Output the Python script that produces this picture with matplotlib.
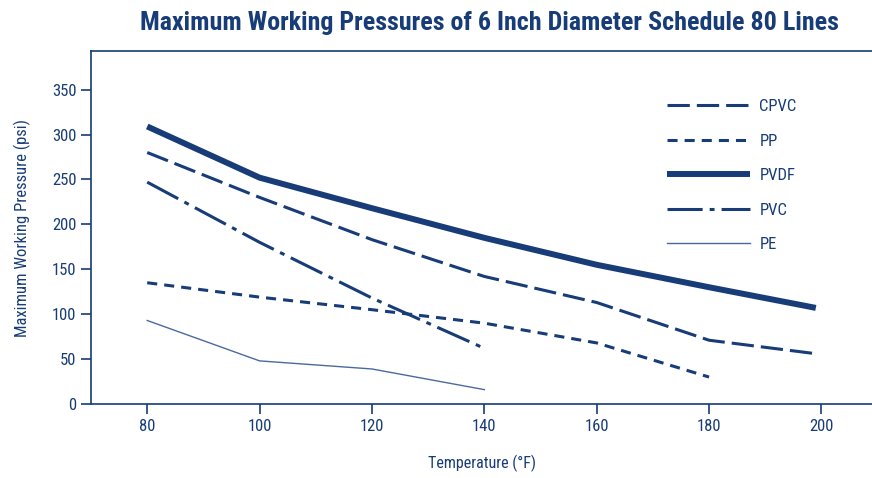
import matplotlib
matplotlib.use("Agg")
import matplotlib.pyplot as plt

# temperatures (F) and max working pressure (psi)
temps = [80, 100, 120, 140, 160, 180, 199]
cpvc = [280, 230, 183, 142, 113, 71, 56]
pp_temps = [80, 100, 120, 140, 160, 180]
pp = [135, 119, 105, 90, 68, 30]
pvdf = [309, 252, 218, 185, 155, 130, 107]
pvc_temps = [80, 100, 120, 140]
pvc = [247, 180, 118, 62]
pe_temps = [80, 100, 120, 140]
pe = [93, 48, 39, 16]

x_ticks = [80, 100, 120, 140, 160, 180, 200]
y_ticks = [0, 50, 100, 150, 200, 250, 300, 350]

NAVY = "#173c78"
FONT = ["Roboto Condensed", "DejaVu Sans"]

plt.rcParams["font.family"] = FONT

fig = plt.figure(figsize=(8.72, 4.78), dpi=100)
ax = fig.add_axes([0.1044, 0.1548, 0.8956, 0.7385])

ax.plot(temps, cpvc, color=NAVY, lw=2.2, dashes=(7.3, 2.3), label="CPVC")
ax.plot(pp_temps, pp, color=NAVY, lw=2.2, dashes=(3.3, 2.3), label="PP")
ax.plot(temps, pvdf, color=NAVY, lw=4.3, solid_capstyle="butt", label="PVDF")
ax.plot(pvc_temps, pvc, color=NAVY, lw=2.2, dashes=(11.5, 2.3, 1.6, 2.3), label="PVC")
ax.plot(pe_temps, pe, color="#4a6a9e", lw=1.0, label="PE")

ax.set_xlim(70, 209)
ax.set_ylim(0, 393)
ax.set_xticks(x_ticks)
ax.set_yticks(y_ticks)

ax.spines["right"].set_visible(False)
for side in ["left", "top", "bottom"]:
    ax.spines[side].set_color(NAVY)
    ax.spines[side].set_linewidth(1.2)

ax.tick_params(colors=NAVY, labelsize=12, length=7, width=1.2, direction="out")

ax.set_xlabel("Temperature (°F)", fontsize=11.5, color=NAVY, labelpad=15)
ax.set_ylabel("Maximum Working Pressure (psi)", fontsize=12, color=NAVY, labelpad=15)

fig.suptitle("Maximum Working Pressures of 6 Inch Diameter Schedule 80 Lines",
             x=0.561, y=0.978, fontsize=18.7, fontweight="bold", color=NAVY)

leg = ax.legend(loc="upper left", bbox_to_anchor=(0.718, 0.906), frameon=False,
                handlelength=5.0, labelspacing=1.17, handletextpad=0.55, fontsize=12)
for t in leg.get_texts():
    t.set_color(NAVY)

fig.savefig("out.png", dpi=100)
